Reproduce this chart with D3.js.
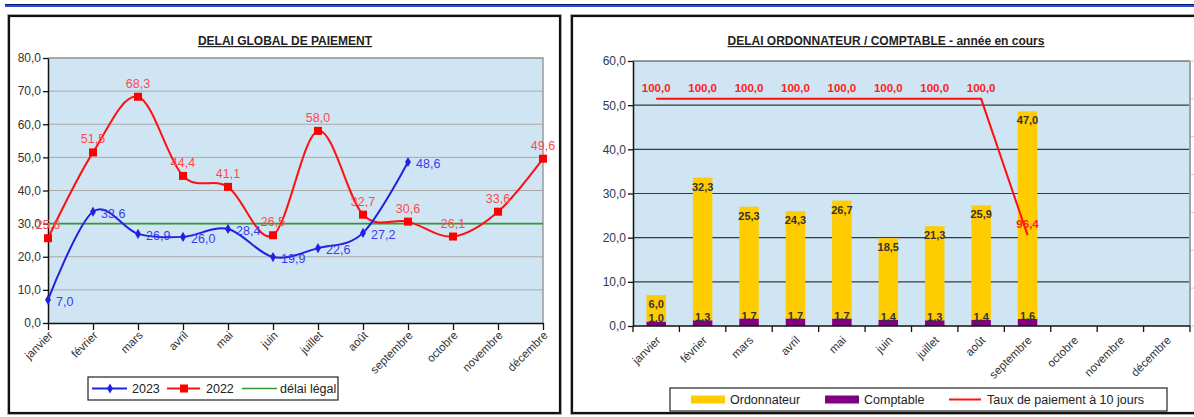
<!DOCTYPE html>
<html>
<head>
<meta charset="utf-8">
<script src="https://cdn.jsdelivr.net/npm/d3@7"></script>
<style>
  html, body { margin: 0; padding: 0; background: #fff; }
  svg { display: block; font-family: "Liberation Sans", Arial, sans-serif; }
</style>
</head>
<body>
<svg id="chart" width="1194" height="417"></svg>
<script>
// Months shown on both charts
const months = ["janvier", "février", "mars", "avril", "mai", "juin", "juillet",
                "août", "septembre", "octobre", "novembre", "décembre"];

// Global payment delay (days)
const delay2023 = [7.0, 33.6, 26.9, 26.0, 28.4, 19.9, 22.6, 27.2, 48.6];
const delay2022 = [25.6, 51.5, 68.3, 44.4, 41.1, 26.5, 58.0, 32.7, 30.6, 26.1, 33.6, 49.6];
const legalDelay = 30;

// Ordonnateur / comptable split for the current year
const ordonnateur = [6.0, 32.3, 25.3, 24.3, 26.7, 18.5, 21.3, 25.9, 47.0];
const comptable = [1.0, 1.3, 1.7, 1.7, 1.7, 1.4, 1.3, 1.4, 1.6];
const tauxDixJours = [100.0, 100.0, 100.0, 100.0, 100.0, 100.0, 100.0, 100.0, 96.4];

// Axis ticks
const leftTicks = [0, 10, 20, 30, 40, 50, 60, 70, 80];
const rightTicks = [0, 10, 20, 30, 40, 50, 60];
const rateTicks = [94, 95, 96, 97, 98, 99, 100, 101];

const fr = v => v.toFixed(1).replace(".", ",");
const svg = d3.select("#chart");

// Banner line across the top
svg.append("line").attr("x1", 5).attr("x2", 1194).attr("y1", 4.5).attr("y2", 4.5)
  .attr("stroke", "#0a1a60").attr("stroke-width", 1.2);
svg.append("line").attr("x1", 5).attr("x2", 1194).attr("y1", 6).attr("y2", 6)
  .attr("stroke", "#2450e0").attr("stroke-width", 2);

// Panel frames
function frame(x, y, w, h) {
  svg.append("rect").attr("x", x - 1.5).attr("y", y - 1.5).attr("width", w + 3).attr("height", h + 3)
    .attr("fill", "none").attr("stroke", "#bbb").attr("stroke-width", 1);
  svg.append("rect").attr("x", x).attr("y", y).attr("width", w).attr("height", h)
    .attr("fill", "#fff").attr("stroke", "#111").attr("stroke-width", 2.2);
}
frame(9, 16, 551, 397);
frame(572, 16, 640, 397);

// ---------------- Left chart: DELAI GLOBAL DE PAIEMENT ----------------
const L = { left: 48, right: 543, top: 58, bottom: 323 };
const xL = d3.scalePoint().domain(months).range([L.left, L.right]);
const yL = d3.scaleLinear().domain([0, 80]).range([L.bottom, L.top]);
const gL = svg.append("g");

gL.append("text").attr("x", 285).attr("y", 45).attr("text-anchor", "middle")
  .attr("font-size", 12).attr("font-weight", "bold").attr("fill", "#222")
  .attr("text-decoration", "underline").text("DELAI GLOBAL DE PAIEMENT");

gL.append("rect").attr("x", L.left).attr("y", L.top).attr("width", L.right - L.left)
  .attr("height", L.bottom - L.top).attr("fill", "#cfe5f3");

// Gridlines
gL.append("g").selectAll("line").data(leftTicks.slice(1)).join("line")
  .attr("x1", L.left).attr("x2", L.right)
  .attr("y1", d => yL(d)).attr("y2", d => yL(d))
  .attr("stroke", "#a9a9a9").attr("stroke-width", 1);
// Plot border (top / right)
gL.append("path").attr("d", `M${L.left},${L.top}H${L.right}V${L.bottom}`)
  .attr("fill", "none").attr("stroke", "#9a9a9a").attr("stroke-width", 1.5);

// Y axis
const yAxisL = gL.append("g").attr("transform", `translate(${L.left},0)`)
  .call(d3.axisLeft(yL).tickValues(leftTicks).tickFormat(fr).tickSize(5).tickSizeOuter(0));
yAxisL.select(".domain").attr("stroke", "#111").attr("stroke-width", 1.5);
yAxisL.selectAll(".tick line").attr("stroke", "#111").attr("stroke-width", 1.3);
yAxisL.selectAll(".tick text").attr("font-size", 12).attr("fill", "#333")
  .attr("font-family", "Liberation Sans, Arial, sans-serif").attr("x", -7);

// X axis
const xAxisL = gL.append("g").attr("transform", `translate(0,${L.bottom})`)
  .call(d3.axisBottom(xL).tickSize(7).tickSizeOuter(0));
xAxisL.select(".domain").attr("stroke", "#111").attr("stroke-width", 1.5);
xAxisL.selectAll(".tick line").attr("stroke", "#111").attr("stroke-width", 1.3);
xAxisL.selectAll(".tick text").attr("font-size", 11.5).attr("fill", "#333")
  .attr("font-family", "Liberation Sans, Arial, sans-serif")
  .attr("text-anchor", "end").attr("y", 0).attr("dy", 0)
  .attr("transform", "translate(5,13) rotate(-45)");

// Legal delay line
gL.append("line").attr("x1", L.left).attr("x2", L.right)
  .attr("y1", yL(legalDelay)).attr("y2", yL(legalDelay))
  .attr("stroke", "#2f9a35").attr("stroke-width", 1.6);

const smooth = d3.line().x((d, i) => xL(months[i])).y(d => yL(d)).curve(d3.curveCardinal.tension(0));

// 2022 series
gL.append("path").datum(delay2022).attr("d", smooth)
  .attr("fill", "none").attr("stroke", "#ff1010").attr("stroke-width", 2);
gL.append("g").selectAll("rect").data(delay2022).join("rect")
  .attr("x", (d, i) => xL(months[i]) - 4).attr("y", d => yL(d) - 4)
  .attr("width", 8).attr("height", 8).attr("fill", "#ff0000");

// 2023 series
gL.append("path").datum(delay2023).attr("d", smooth)
  .attr("fill", "none").attr("stroke", "#2121e0").attr("stroke-width", 2);
gL.append("g").selectAll("path").data(delay2023).join("path")
  .attr("d", d3.symbol(d3.symbolDiamond, 30))
  .attr("transform", (d, i) => `translate(${xL(months[i])},${yL(d)})`)
  .attr("fill", "#2121e0");

// Labels
gL.append("g").selectAll("text").data(delay2022).join("text")
  .attr("x", (d, i) => xL(months[i])).attr("y", d => yL(d) - 9)
  .attr("text-anchor", "middle").attr("font-size", 12.5).attr("fill", "#ff4a4a")
  .text(fr);
gL.append("g").selectAll("text").data(delay2023).join("text")
  .attr("x", (d, i) => xL(months[i]) + 8).attr("y", d => yL(d) + 6)
  .attr("font-size", 12.5).attr("fill", "#3a3af0")
  .text(fr);

// Legend
const lgL = gL.append("g");
lgL.append("rect").attr("x", 88).attr("y", 377).attr("width", 250).attr("height", 23)
  .attr("fill", "#fff").attr("stroke", "#222").attr("stroke-width", 1.2);
const ly = 388.5;
lgL.append("line").attr("x1", 92).attr("x2", 127).attr("y1", ly).attr("y2", ly)
  .attr("stroke", "#2121e0").attr("stroke-width", 2);
lgL.append("path").attr("d", d3.symbol(d3.symbolDiamond, 30))
  .attr("transform", `translate(110,${ly})`).attr("fill", "#2121e0");
lgL.append("text").attr("x", 132).attr("y", ly + 4.5).attr("font-size", 12.5).attr("fill", "#222").text("2023");
lgL.append("line").attr("x1", 167).attr("x2", 200).attr("y1", ly).attr("y2", ly)
  .attr("stroke", "#ff1010").attr("stroke-width", 2);
lgL.append("rect").attr("x", 180).attr("y", ly - 4).attr("width", 8).attr("height", 8).attr("fill", "#ff0000");
lgL.append("text").attr("x", 206).attr("y", ly + 4.5).attr("font-size", 12.5).attr("fill", "#222").text("2022");
lgL.append("line").attr("x1", 242).attr("x2", 277).attr("y1", ly).attr("y2", ly)
  .attr("stroke", "#2f9a35").attr("stroke-width", 1.6);
lgL.append("text").attr("x", 280).attr("y", ly + 4.5).attr("font-size", 12.5).attr("fill", "#222").text("délai légal");

// ---------------- Right chart: DELAI ORDONNATEUR / COMPTABLE ----------------
const R = { left: 633, right: 1190, top: 61, bottom: 326 };
const xR = d3.scaleBand().domain(months).range([R.left, R.right]).paddingInner(0.58).paddingOuter(0.29);
const yR = d3.scaleLinear().domain([0, 60]).range([R.bottom, R.top]);
const yRate = d3.scaleLinear().domain([94, 101]).range([R.bottom, R.top]);
const gR = svg.append("g");

gR.append("text").attr("x", 886).attr("y", 45).attr("text-anchor", "middle")
  .attr("font-size", 12).attr("font-weight", "bold").attr("fill", "#222")
  .attr("text-decoration", "underline").text("DELAI ORDONNATEUR / COMPTABLE - année en cours");

gR.append("rect").attr("x", R.left).attr("y", R.top).attr("width", R.right - R.left)
  .attr("height", R.bottom - R.top).attr("fill", "#cfe5f3");
gR.append("g").selectAll("line").data(rightTicks.slice(1)).join("line")
  .attr("x1", R.left).attr("x2", R.right)
  .attr("y1", d => yR(d)).attr("y2", d => yR(d))
  .attr("stroke", "#3a3a3a").attr("stroke-width", 1.2);
gR.append("line").attr("x1", R.right).attr("x2", R.right).attr("y1", R.top).attr("y2", R.bottom)
  .attr("stroke", "#a0a0a0").attr("stroke-width", 2);

// Secondary (rate) axis ticks, labels fall outside the frame
gR.append("g").selectAll("line").data(rateTicks).join("line")
  .attr("x1", R.right + 1).attr("x2", R.right + 6)
  .attr("y1", d => yRate(d)).attr("y2", d => yRate(d))
  .attr("stroke", "#c8c8c8").attr("stroke-width", 1);

// Stacked bars: comptable at the base, ordonnateur on top
const bw = xR.bandwidth();
gR.append("g").selectAll("rect").data(comptable).join("rect")
  .attr("x", (d, i) => xR(months[i])).attr("width", bw)
  .attr("y", d => yR(d)).attr("height", d => yR(0) - yR(d))
  .attr("fill", "#800080");
gR.append("g").selectAll("rect").data(ordonnateur).join("rect")
  .attr("x", (d, i) => xR(months[i])).attr("width", bw)
  .attr("y", (d, i) => yR(d + comptable[i])).attr("height", d => yR(0) - yR(d))
  .attr("fill", "#ffcc00");

// Y axis
const yAxisR = gR.append("g").attr("transform", `translate(${R.left},0)`)
  .call(d3.axisLeft(yR).tickValues(rightTicks).tickFormat(fr).tickSize(5).tickSizeOuter(0));
yAxisR.select(".domain").attr("stroke", "#111").attr("stroke-width", 1.5);
yAxisR.selectAll(".tick line").attr("stroke", "#111").attr("stroke-width", 1.3);
yAxisR.selectAll(".tick text").attr("font-size", 12).attr("fill", "#2e3a50")
  .attr("font-family", "Liberation Sans, Arial, sans-serif").attr("x", -7);

// X axis with ticks on category boundaries
const bounds = d3.range(months.length + 1).map(i => R.left + i * (R.right - R.left) / months.length);
const xAxisR = gR.append("g");
xAxisR.append("line").attr("x1", R.left).attr("x2", R.right).attr("y1", R.bottom).attr("y2", R.bottom)
  .attr("stroke", "#111").attr("stroke-width", 1.5);
xAxisR.selectAll(".tk").data(bounds).join("line").attr("class", "tk")
  .attr("x1", d => d).attr("x2", d => d).attr("y1", R.bottom).attr("y2", R.bottom + 6)
  .attr("stroke", "#111").attr("stroke-width", 1.3);
xAxisR.selectAll(".lbl").data(months).join("text").attr("class", "lbl")
  .attr("text-anchor", "end").attr("font-size", 11.5).attr("fill", "#333")
  .attr("transform", d => `translate(${xR(d) + bw / 2 + 5},${R.bottom + 15}) rotate(-45)`)
  .text(d => d);

// Bar labels
const narrow = "'Liberation Sans Narrow', 'Liberation Sans', Arial, sans-serif";
gR.append("g").selectAll("text").data(ordonnateur).join("text")
  .attr("x", (d, i) => xR(months[i]) + bw / 2).attr("y", (d, i) => yR(d + comptable[i]) + 13)
  .attr("text-anchor", "middle").attr("font-size", 11).attr("font-weight", "bold")
  .attr("font-family", narrow).attr("fill", "#333").text(fr);
gR.append("g").selectAll("text").data(comptable).join("text")
  .attr("x", (d, i) => xR(months[i]) + bw / 2).attr("y", d => yR(d / 2) - 2)
  .attr("text-anchor", "middle").attr("font-size", 11).attr("font-weight", "bold")
  .attr("font-family", narrow).attr("fill", "#333").text(fr);

// Payment rate within 10 days
const rateLine = d3.line().x((d, i) => xR(months[i]) + bw / 2).y(d => yRate(d));
gR.append("path").datum(tauxDixJours).attr("d", rateLine)
  .attr("fill", "none").attr("stroke", "#ff1010").attr("stroke-width", 2);
gR.append("g").selectAll("text").data(tauxDixJours).join("text")
  .attr("x", (d, i) => xR(months[i]) + bw / 2).attr("y", d => yRate(d) - 7)
  .attr("text-anchor", "middle").attr("font-size", 11.5).attr("font-weight", "bold")
  .attr("font-family", narrow).attr("fill", "#ff2020").text(fr);

// Legend
const lgR = gR.append("g");
lgR.append("rect").attr("x", 670).attr("y", 388).attr("width", 497).attr("height", 23)
  .attr("fill", "#fff").attr("stroke", "#222").attr("stroke-width", 1.2);
const ry = 399.5;
lgR.append("rect").attr("x", 691).attr("y", ry - 4).attr("width", 34).attr("height", 8).attr("fill", "#ffcc00");
lgR.append("text").attr("x", 730).attr("y", ry + 4.5).attr("font-size", 12.5).attr("fill", "#222").text("Ordonnateur");
lgR.append("rect").attr("x", 825).attr("y", ry - 4).attr("width", 34).attr("height", 8).attr("fill", "#800080");
lgR.append("text").attr("x", 864).attr("y", ry + 4.5).attr("font-size", 12.5).attr("fill", "#222").text("Comptable");
lgR.append("line").attr("x1", 949).attr("x2", 981).attr("y1", ry).attr("y2", ry)
  .attr("stroke", "#ff1010").attr("stroke-width", 2);
lgR.append("text").attr("x", 987).attr("y", ry + 4.5).attr("font-size", 12.5).attr("fill", "#222").text("Taux de paiement à 10 jours");
</script>
</body>
</html>
